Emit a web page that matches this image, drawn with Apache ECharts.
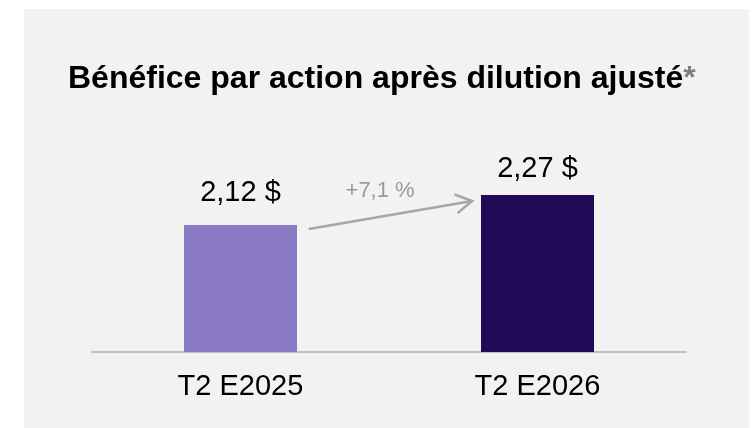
<!DOCTYPE html>
<html>
<head>
<meta charset="utf-8">
<script src="https://cdn.jsdelivr.net/npm/echarts@6/dist/echarts.min.js"></script>
<style>
  html, body { margin: 0; padding: 0; background: #fff; }
  #chart { width: 754px; height: 428px; }
</style>
</head>
<body>
<div id="chart"></div>
<script>
  // données
  const categories = ['T2 E2025', 'T2 E2026'];
  const values = [2.12, 2.27];
  const valueLabels = ['2,12 $', '2,27 $'];
  const barColors = ['#8b7ac4', '#200a55'];
  const labelGaps = [18, 12];
  // flèche de variation : [x1, y1, x2, y2] (x en position de catégorie)
  const arrow = [[0.23, 2.10, 0.78, 2.24]];
  const arrowText = '+7,1 %';
  const arrowTextPos = [0.47, 2.29];

  const font = "'Liberation Sans', Arial, sans-serif";
  const chart = echarts.init(document.getElementById('chart'));

  chart.setOption({
    backgroundColor: '#ffffff',
    animation: false,
    graphic: [{
      type: 'rect',
      z: -10,
      shape: {x: 24, y: 9, width: 725, height: 419},
      style: {fill: '#f2f2f2'},
    }],
    title: {
      text: '{a|Bénéfice par action après dilution ajusté}{b|*}',
      left: 68,
      top: 63,
      padding: 0,
      textStyle: {
        rich: {
          a: {fontFamily: font, fontSize: 32, fontWeight: 'bold', color: '#000'},
          b: {fontFamily: font, fontSize: 32, fontWeight: 'bold', color: '#7f7f7f'},
        },
      },
    },
    grid: {
      left: 92,
      right: 68,
      top: 152,
      bottom: 76,
    },
    xAxis: [
      {
        type: 'category',
        data: categories,
        axisLine: {lineStyle: {color: '#bfbfbf', width: 2}},
        axisTick: {show: false},
        axisLabel: {
          margin: 20,
          fontFamily: font,
          fontSize: 29,
          color: '#000',
        },
      },
      {
        type: 'value',
        min: -0.5,
        max: 1.5,
        show: false,
      }],
    yAxis: {
      type: 'value',
      min: 1.485,
      max: 2.485,
      show: false,
      splitLine: {show: false},
    },
    series: [
      {
        type: 'bar',
        barWidth: 113,
        data: values.map((v, i) => ({
          value: v,
          itemStyle: {color: barColors[i]},
          label: {distance: labelGaps[i]},
        })),
        label: {
          show: true,
          position: 'top',
          fontFamily: font,
          fontSize: 29,
          color: '#000',
          formatter: p => valueLabels[p.dataIndex],
        },
      },
      {
        type: 'custom',
        xAxisIndex: 1,
        yAxisIndex: 0,
        data: arrow,
        silent: true,
        renderItem: function(params, api) {
          const p1 = api.coord([api.value(0), api.value(1)]);
          const p2 = api.coord([api.value(2), api.value(3)]);
          const t = api.coord(arrowTextPos);
          const ang = Math.atan2(p1[1] - p2[1], p1[0] - p2[0]);
          const len = 19, spread = Math.PI / 6;
          const h1 = [p2[0] + len * Math.cos(ang - spread), p2[1] + len * Math.sin(ang - spread)];
          const h2 = [p2[0] + len * Math.cos(ang + spread), p2[1] + len * Math.sin(ang + spread)];
          const stroke = {stroke: '#a6a6a6', lineWidth: 2.5, fill: null};
          return {
            type: 'group',
            children: [
              {type: 'line', shape: {x1: p1[0], y1: p1[1], x2: p2[0], y2: p2[1]}, style: stroke},
              {type: 'polyline', shape: {points: [h1, p2, h2]}, style: stroke},
              {
                type: 'text',
                x: t[0],
                y: t[1],
                style: {
                  text: arrowText,
                  fill: '#999999',
                  font: '22px ' + font,
                  align: 'center',
                  verticalAlign: 'middle',
                },
              }],
          };
        },
      }],
  });
</script>
</body>
</html>
